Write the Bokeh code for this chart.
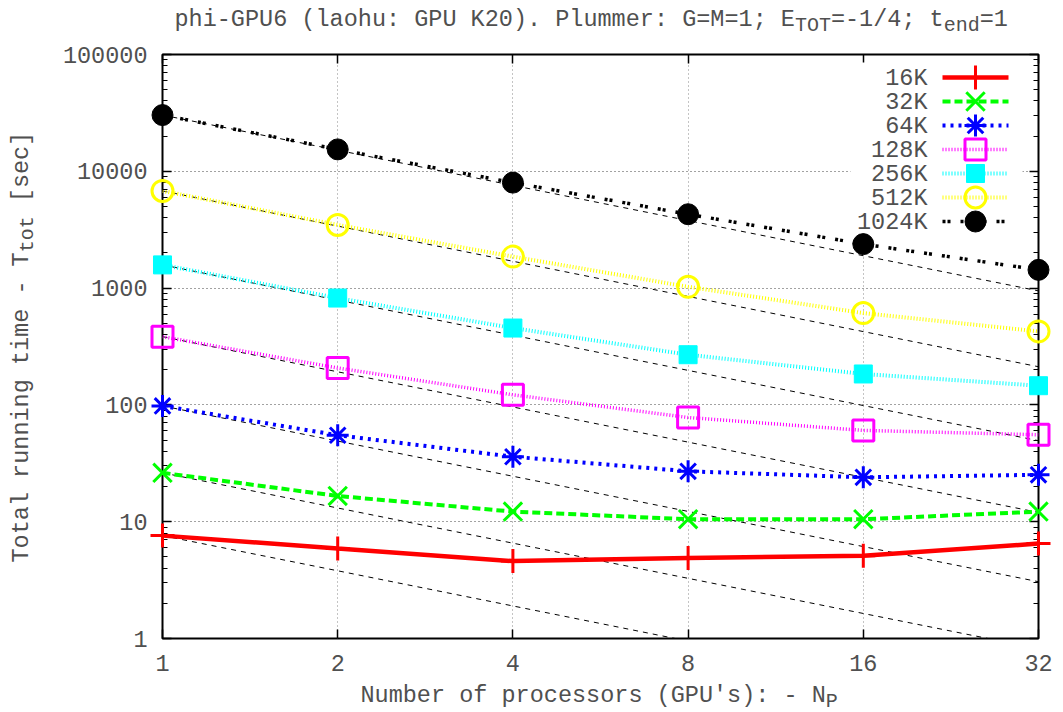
import math
from bokeh.plotting import figure
from bokeh.layouts import column, row
from bokeh.models import Range1d, FixedTicker, LogAxis, Label, BoxAnnotation
from bokeh.embed import file_html
from bokeh.resources import INLINE

# ---------------- data ----------------
P = [1, 2, 4, 8, 16, 32]
X_LABELS = ["1", "2", "4", "8", "16", "32"]
Y_TICKS = [1, 10, 100, 1000, 10000, 100000]
Y_LABELS = ["1", "10", "100", "1000", "10000", "100000"]

NAMES = ["16K", "32K", "64K", "128K", "256K", "512K", "1024K"]
T_16K = [7.6, 5.9, 4.6, 4.9, 5.1, 6.5]
T_32K = [26.2, 16.6, 12.2, 10.5, 10.5, 12.2]
T_64K = [98, 55, 36, 27, 24, 25.2]
T_128K = [384, 207, 122, 78, 60.5, 55.5]
T_256K = [1580, 822, 455, 269, 184, 146]
T_512K = [6790, 3475, 1860, 1026, 611, 426]
T_1024K = [30300, 15400, 8000, 4290, 2380, 1433]
SERIES = [T_16K, T_32K, T_64K, T_128K, T_256K, T_512K, T_1024K]

TITLE_PARTS = [("phi-GPU6 (laohu: GPU K20). Plummer: G=M=1; E", False), ("TOT", True),
               ("=-1/4; t", False), ("end", True), ("=1", False)]
XLABEL_PARTS = [("Number of processors (GPU's): - N", False), ("P", True)]
YLABEL_PARTS = [("Total running time - T", False), ("tot", True), (" [sec]", False)]

# ---------------- styles ----------------
COLORS = ["#ff0000", "#00ff00", "#0000ff", "#ff00ff", "#00ffff", "#ffff00", "#000000"]
DASHES = ["solid", "8 4", "3 5", "1 2", "1 2", "1 2", "3 2 3 10"]
LWIDTHS = [4.5, 4, 4, 3.5, 4, 4, 3.5]
MARKERS = ["cross", "x", "asterisk", "square", "square", "circle", "circle"]
MSIZES = [24, 26, 22, 21, 18, 21, 21]
MFILLED = [False, False, False, False, True, False, True]

FONT = "Liberation Mono"
FS = "23.5px"
FS_SUB = "20px"
CW = 14.1      # character advance at FS
CWS = 12.0     # character advance at FS_SUB
MID = 6.5      # baseline -> visual middle offset at FS
MID_S = 5.5    # same at FS_SUB
SUB_DROP = 5.5
TXT = "#505050"

TOTAL_W = 1060
TITLE_H = 44
LEFT_W = 50
MAIN_BOTTOM = 682          # page y where main figure ends
BOTTOM_H = 30
MAIN_H = MAIN_BOTTOM - TITLE_H
MAIN_W = TOTAL_W - LEFT_W
# frame in page coordinates
FL, FR, FT, FB = 162, 1038, 54, 638
OCT = (FR - FL) / 5.0
DEC = (FB - FT) / 5.0


def xd(px):
    return 2 ** ((px - FL) / OCT)


def yd(py):
    return 10 ** ((FB - py) / DEC)


p = figure(width=MAIN_W, height=MAIN_H, x_axis_type="log", y_axis_type="log",
           x_range=Range1d(1, 32), y_range=Range1d(1, 100000),
           output_backend="svg", toolbar_location=None, title=None,
           min_border_left=FL - LEFT_W, min_border_right=TOTAL_W - FR,
           min_border_top=FT - TITLE_H, min_border_bottom=MAIN_BOTTOM - FB)
p.background_fill_color = "white"
p.border_fill_color = "white"
p.outline_line_color = "black"
p.outline_line_width = 2

minor_y = [m * 10 ** e for e in range(5) for m in range(2, 10)]


def style_axis(ax, labels=True, standoff=14):
    ax.axis_line_color = None
    ax.major_tick_in = 9
    ax.major_tick_out = 0
    ax.minor_tick_in = 5
    ax.minor_tick_out = 0
    ax.major_tick_line_color = "black"
    ax.major_tick_line_width = 1.5
    ax.minor_tick_line_color = "black"
    ax.minor_tick_line_width = 1.2
    if labels:
        ax.major_label_text_font = FONT
        ax.major_label_text_font_size = FS
        ax.major_label_text_color = TXT
        ax.major_label_standoff = standoff
    else:
        ax.major_label_text_font_size = "0px"
        ax.major_label_standoff = 0


xa = p.xaxis[0]
xa.ticker = FixedTicker(ticks=P, minor_ticks=[])
xa.major_label_overrides = {t: s for t, s in zip(P, X_LABELS)}
style_axis(xa, standoff=16)
ya = p.yaxis[0]
ya.ticker = FixedTicker(ticks=Y_TICKS, minor_ticks=minor_y)
ya.major_label_overrides = {t: s for t, s in zip(Y_TICKS, Y_LABELS)}
style_axis(ya, standoff=15)

top = LogAxis(ticker=FixedTicker(ticks=P, minor_ticks=[]),
              major_label_overrides={t: "" for t in P})
style_axis(top, labels=False)
p.add_layout(top, "above")
right = LogAxis(ticker=FixedTicker(ticks=Y_TICKS, minor_ticks=minor_y),
                major_label_overrides={t: "" for t in Y_TICKS})
style_axis(right, labels=False)
p.add_layout(right, "right")

p.xgrid.grid_line_color = "#888888"
p.xgrid.grid_line_dash = "1 3"
p.xgrid.grid_line_width = 1
p.ygrid.grid_line_color = "#444444"
p.ygrid.grid_line_dash = "1 3"
p.ygrid.grid_line_width = 1

# ideal-scaling reference lines T(1)/N
for s in SERIES:
    ref = [s[0] * P[0] / n for n in P]
    p.line(P, ref, line_color="black", line_width=1, line_dash="5 5")

# data series
for s, c, d, lw in zip(SERIES, COLORS, DASHES, LWIDTHS):
    p.line(P, s, line_color=c, line_width=lw, line_dash=d)
for s, c, m, ms, f in zip(SERIES, COLORS, MARKERS, MSIZES, MFILLED):
    if f:
        sc = p.scatter(P, s, marker=m, size=ms, fill_color=c, line_color=c, line_width=1)
    else:
        sc = p.scatter(P, s, marker=m, size=ms, fill_color=None, line_color=c, line_width=3)
    sc.level = "overlay"

# ---------------- legend (text left, sample right) ----------------
box = BoxAnnotation(left=xd(850), right=xd(1022), top=yd(62), bottom=yd(232),
                    fill_color="white", fill_alpha=1.0, line_color=None)
p.add_layout(box)
for i, (name, c, d, lw, m, ms, f) in enumerate(zip(NAMES, COLORS, DASHES, LWIDTHS, MARKERS, MSIZES, MFILLED)):
    ry = 77 + 24 * i
    p.add_layout(Label(x=xd(927), y=yd(ry + 1), text=name, text_align="right",
                       text_baseline="middle", text_font=FONT, text_font_size=FS,
                       text_color=TXT))
    ln = p.line([xd(942), xd(1008)], [yd(ry), yd(ry)], line_color=c, line_width=lw, line_dash=d)
    ln.level = "overlay"
    if f:
        sc = p.scatter([xd(975)], [yd(ry)], marker=m, size=ms, fill_color=c, line_color=c, line_width=1)
    else:
        sc = p.scatter([xd(975)], [yd(ry)], marker=m, size=ms, fill_color=None, line_color=c, line_width=3)
    sc.level = "overlay"


# ---------------- text strips (title, y label, x label) ----------------
# Each strip's data coordinates equal page pixel coordinates (y grows downward).
def strip(w, h, x0, page_top, page_bottom, bt=0, bb=0):
    f = figure(width=w, height=h, x_range=Range1d(x0, x0 + w),
               y_range=Range1d(page_bottom - bb, page_top + bt),
               output_backend="svg", toolbar_location=None, title=None,
               x_axis_location=None, y_axis_location=None, min_border=0,
               min_border_top=bt, min_border_bottom=bb)
    f.outline_line_color = None
    f.background_fill_color = "white"
    f.border_fill_color = "white"
    f.grid.visible = False
    return f


def seg(f, x, y, text, sub=False, angle=0.0):
    f.add_layout(Label(x=x, y=y, text=text, text_align="center", text_baseline="middle",
                       text_font=FONT, text_font_size=FS_SUB if sub else FS,
                       text_color=TXT, angle=angle, angle_units="rad"))


def split_ws(t, adv):
    """visible text plus the advance of its leading / trailing blanks"""
    s = t.strip()
    lead = len(t) - len(t.lstrip())
    return s, lead * adv, len(s) * adv, len(t) * adv


def run_h(f, parts, x0, base):
    x = x0
    for t, sb in parts:
        s, lead, vis, full = split_ws(t, CWS if sb else CW)
        cy = (base + SUB_DROP - MID_S) if sb else (base - MID)
        seg(f, x + lead + vis / 2.0, cy, s, sb)
        x += full


ts = strip(TOTAL_W, TITLE_H, 0, 0, TITLE_H)
run_h(ts, TITLE_PARTS, 174.0, 25.0)

bs = strip(TOTAL_W, BOTTOM_H, 0, MAIN_BOTTOM, MAIN_BOTTOM + BOTTOM_H)
run_h(bs, XLABEL_PARTS, 360.0, 701.0)

# left strip: same top/bottom borders as the main plot so that frames align
ls = strip(LEFT_W, MAIN_H, 0, TITLE_H, MAIN_BOTTOM,
           bt=FT - TITLE_H, bb=MAIN_BOTTOM - FB)
ty, bx = 562.0, 27.0
for t, sb in YLABEL_PARTS:
    s, lead, vis, full = split_ws(t, CWS if sb else CW)
    cx = (bx + SUB_DROP - MID_S) if sb else (bx - MID)
    seg(ls, cx, ty - lead - vis / 2.0, s, sb, angle=math.pi / 2)
    ty -= full

layout = column(ts, row(ls, p, spacing=0), bs, spacing=0)
open("out.html", "w").write(file_html(layout, INLINE))
